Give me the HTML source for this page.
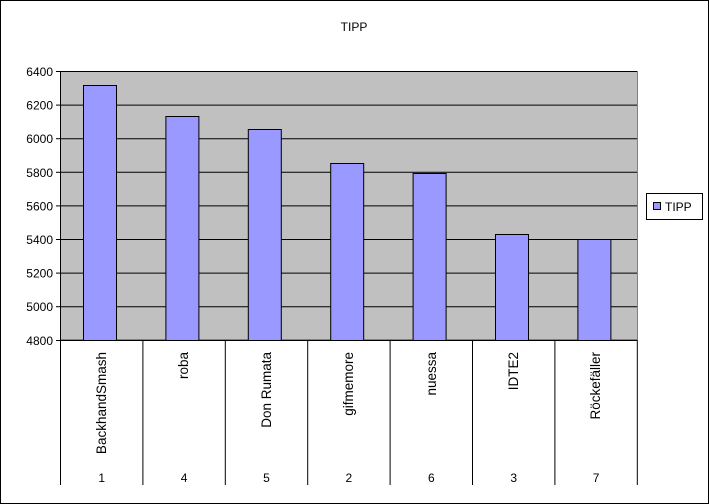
<!DOCTYPE html><html><head><style>body{margin:0;background:#fff}svg{display:block}text{font-family:"Liberation Sans",Arial,sans-serif;font-size:12px;fill:#000}.c{font-size:13.5px}</style></head><body>
<svg width="709" height="504" xmlns="http://www.w3.org/2000/svg">
<rect x="0.5" y="0.5" width="708" height="503" fill="#fff" stroke="#000"/>
<text x="354" y="31" text-anchor="middle">TIPP</text>
<rect x="60.5" y="71.5" width="577" height="268" fill="#c0c0c0" stroke="#808080"/>
<g stroke="#000" stroke-width="1">
<line x1="60" y1="71.5" x2="637" y2="71.5"/><line x1="60" y1="105.1" x2="637" y2="105.1"/><line x1="60" y1="138.7" x2="637" y2="138.7"/><line x1="60" y1="172.3" x2="637" y2="172.3"/><line x1="60" y1="205.9" x2="637" y2="205.9"/><line x1="60" y1="239.5" x2="637" y2="239.5"/><line x1="60" y1="273.1" x2="637" y2="273.1"/><line x1="60" y1="306.7" x2="637" y2="306.7"/><line x1="56" y1="340.5" x2="637" y2="340.5"/>
<line x1="60.5" y1="71" x2="60.5" y2="485"/>
<line x1="56" y1="71.5" x2="60" y2="71.5"/><line x1="56" y1="105.1" x2="60" y2="105.1"/><line x1="56" y1="138.7" x2="60" y2="138.7"/><line x1="56" y1="172.3" x2="60" y2="172.3"/><line x1="56" y1="205.9" x2="60" y2="205.9"/><line x1="56" y1="239.5" x2="60" y2="239.5"/><line x1="56" y1="273.1" x2="60" y2="273.1"/><line x1="56" y1="306.7" x2="60" y2="306.7"/>
<line x1="142.9" y1="340" x2="142.9" y2="485"/><line x1="225.3" y1="340" x2="225.3" y2="485"/><line x1="307.7" y1="340" x2="307.7" y2="485"/><line x1="390.1" y1="340" x2="390.1" y2="485"/><line x1="472.5" y1="340" x2="472.5" y2="485"/><line x1="554.9" y1="340" x2="554.9" y2="485"/><line x1="637.3" y1="340" x2="637.3" y2="485"/>
</g>
<g fill="#9999ff" stroke="#000">
<rect x="83.5" y="85.5" width="33" height="255"/>
<rect x="165.9" y="116.5" width="33" height="224"/>
<rect x="248.3" y="129.5" width="33" height="211"/>
<rect x="330.7" y="163.5" width="33" height="177"/>
<rect x="413.1" y="173.5" width="33" height="167"/>
<rect x="495.5" y="234.5" width="33" height="106"/>
<rect x="577.9" y="239.5" width="33" height="101"/>
</g>
<g text-anchor="end">
<text x="53" y="76">6400</text><text x="53" y="109.6">6200</text><text x="53" y="143.2">6000</text><text x="53" y="176.8">5800</text><text x="53" y="210.4">5600</text><text x="53" y="244">5400</text><text x="53" y="277.6">5200</text><text x="53" y="311.2">5000</text><text x="53" y="345">4800</text>
</g>
<g class="c">
<text class="c" transform="translate(106,352) rotate(-90)" text-anchor="end">BackhandSmash</text>
<text class="c" transform="translate(188,352) rotate(-90)" text-anchor="end">roba</text>
<text class="c" transform="translate(271,352) rotate(-90)" text-anchor="end">Don Rumata</text>
<text class="c" transform="translate(353,352) rotate(-90)" text-anchor="end">gifmemore</text>
<text class="c" transform="translate(436,352) rotate(-90)" text-anchor="end">nuessa</text>
<text class="c" transform="translate(518,352) rotate(-90)" text-anchor="end">IDTE2</text>
<text class="c" transform="translate(600,352) rotate(-90)" text-anchor="end">Röckefäller</text>
</g>
<g text-anchor="middle">
<text x="101.7" y="482">1</text><text x="184.1" y="482">4</text><text x="266.5" y="482">5</text><text x="348.9" y="482">2</text><text x="431.3" y="482">6</text><text x="513.7" y="482">3</text><text x="596.1" y="482">7</text>
</g>
<rect x="646.5" y="193.5" width="56" height="26" fill="#fff" stroke="#000"/>
<rect x="653.5" y="202.5" width="7" height="7" fill="#9999ff" stroke="#000"/>
<text x="665" y="211">TIPP</text>
</svg></body></html>
